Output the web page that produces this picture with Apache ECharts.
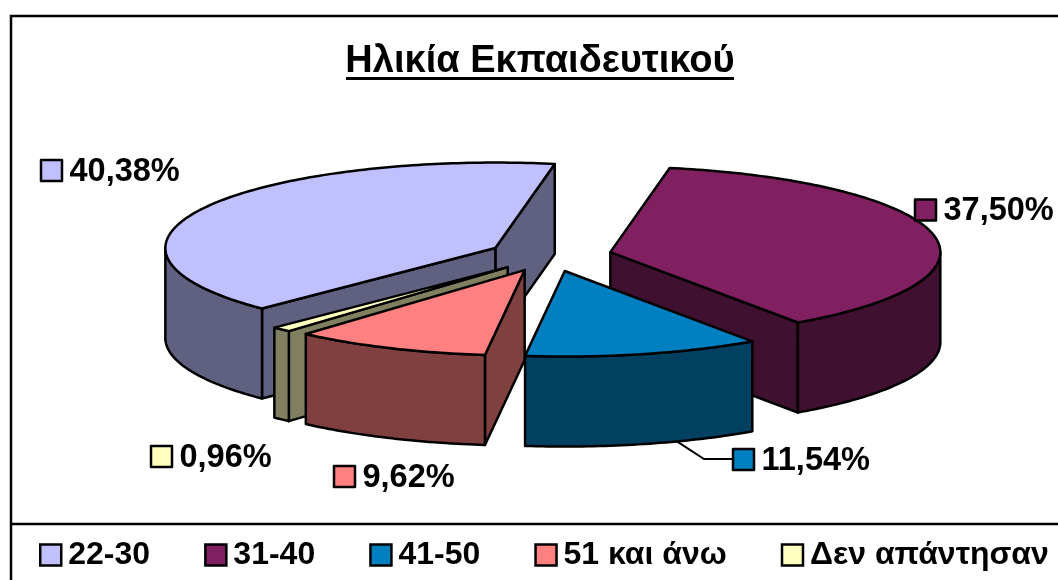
<!DOCTYPE html>
<html>
<head>
<meta charset="utf-8">
<style>
  html, body { margin: 0; padding: 0; background: #fff; }
  #chart { width: 1058px; height: 580px; }
</style>
<script src="https://cdn.jsdelivr.net/npm/echarts@6/dist/echarts.min.js"></script>
</head>
<body>
<div id="chart"></div>
<script>
var titleText = "Ηλικία Εκπαιδευτικού";
var categories = ["22-30", "31-40", "41-50", "51 και άνω", "Δεν απάντησαν"];
var values = [40.38, 37.5, 11.54, 9.62, 0.96];
var topColors = ["#C0C0FF", "#802060", "#0080C0", "#FF8080", "#FFFFC0"];
var wallColors = ["#606080", "#401030", "#004060", "#804040", "#808060"];
// back to front, the small wedges sit in front of the two big ones
var drawOrder = [0, 1, 4, 3, 2];
// left/top of the little key next to each data label
var labelBoxes = [[41, 160], [915, 199.5], [733, 449], [334, 466], [151, 446]];

var FONT = '"Liberation Sans", Arial, sans-serif';
var pie = { cx: 550, cy: 255.5, rx: 330, ry: 85.5, depth: 90, explode: 0.187, start: 225 };

var total = values.reduce(function (a, b) { return a + b; }, 0);
var slices = [];
var cursor = pie.start;
values.forEach(function (v) {
  // excel goes clockwise so the angle falls
  var sweep = (v / total) * 360;
  slices.push({ hi: cursor, lo: cursor - sweep, mid: cursor - sweep / 2 });
  cursor -= sweep;
});

function rad(d) { return (d * Math.PI) / 180; }

function apexOf(s) {
  return [
    pie.cx + Math.cos(rad(s.mid)) * pie.rx * pie.explode,
    pie.cy - Math.sin(rad(s.mid)) * pie.ry * pie.explode
  ];
}

function onRim(apex, deg, down) {
  return [
    apex[0] + Math.cos(rad(deg)) * pie.rx,
    apex[1] - Math.sin(rad(deg)) * pie.ry + (down ? pie.depth : 0)
  ];
}

function arc(apex, from, to, down) {
  var pts = [];
  var n = Math.max(2, Math.ceil(Math.abs(to - from)));
  for (var i = 0; i <= n; i++) {
    pts.push(onRim(apex, from + ((to - from) * i) / n, down));
  }
  return pts;
}

function lineStyle(fill) {
  return { fill: fill, stroke: "#000", lineWidth: 2.5, lineJoin: "round" };
}

function face(points, fill) {
  return { type: "polygon", shape: { points: points }, style: lineStyle(fill) };
}

function cutFace(apex, deg, fill) {
  var p = onRim(apex, deg, false);
  return face(
    [apex, p, [p[0], p[1] + pie.depth], [apex[0], apex[1] + pie.depth]],
    fill
  );
}

function sliceShapes(idx) {
  var s = slices[idx];
  var apex = apexOf(s);
  var kids = [];
  // cut faces only when they turn toward the viewer
  if (Math.cos(rad(s.lo)) > 0) kids.push(cutFace(apex, s.lo, wallColors[idx]));
  if (Math.cos(rad(s.hi)) < 0) kids.push(cutFace(apex, s.hi, wallColors[idx]));
  // outer wall, front half of the rim
  [[-180, 0], [180, 360]].forEach(function (range) {
    var from = Math.max(s.lo, range[0]);
    var to = Math.min(s.hi, range[1]);
    if (to > from) {
      var up = arc(apex, from, to, false);
      var low = arc(apex, from, to, true).reverse();
      kids.push(face(up.concat(low), wallColors[idx]));
    }
  });
  kids.push(face([apex].concat(arc(apex, s.lo, s.hi, false)), topColors[idx]));
  return kids;
}

function labelShapes(idx, value) {
  var box = labelBoxes[idx];
  var kids = [];
  if (idx === 2) {
    // leader of the 41-50 label
    var s = slices[idx];
    var from = onRim(apexOf(s), s.mid + 6, true);
    kids.push({
      type: "polyline",
      shape: { points: [from, [704, box[1] + 10], [box[0], box[1] + 10]] },
      style: { fill: "none", stroke: "#000", lineWidth: 2 }
    });
  }
  kids.push({
    type: "rect",
    shape: { x: box[0], y: box[1], width: 21, height: 21 },
    style: lineStyle(topColors[idx])
  });
  kids.push({
    type: "text",
    style: {
      x: box[0] + 28.5,
      y: box[1] + 12,
      text: value.toFixed(2).replace(".", ",") + "%",
      font: "bold 32.5px " + FONT,
      fill: "#000",
      verticalAlign: "middle"
    }
  });
  return kids;
}

var series = categories.map(function (name, i) {
  return {
    name: name,
    type: "custom",
    coordinateSystem: "none",
    silent: true,
    z: 2 + drawOrder.indexOf(i),
    itemStyle: { color: topColors[i] },
    data: [[values[i]]],
    renderItem: function (params, api) {
      return {
        type: "group",
        children: sliceShapes(i).concat(labelShapes(i, api.value(0)))
      };
    }
  };
});

var myChart = echarts.init(document.getElementById("chart"));
myChart.setOption({
  animation: false,
  backgroundColor: "#fff",
  title: {
    text: titleText,
    left: 535,
    top: 38,
    textAlign: "center",
    textStyle: { fontFamily: FONT, fontWeight: "bold", fontSize: 38, color: "#000" }
  },
  legend: {
    data: categories,
    left: 39,
    top: 539,
    padding: 0,
    icon: "rect",
    itemWidth: 21,
    itemHeight: 21,
    itemGap: 54,
    selectedMode: false,
    itemStyle: { borderColor: "#000", borderWidth: 2.5 },
    textStyle: { fontFamily: FONT, fontWeight: "bold", fontSize: 32, color: "#000", padding: [0, 0, 0, 2] }
  },
  graphic: [
    // chart frame runs off the right and bottom of the picture
    {
      type: "polyline",
      shape: { points: [[11, 580], [11, 16], [1058, 16]] },
      style: { fill: "none", stroke: "#000", lineWidth: 2.5 }
    },
    {
      type: "line",
      shape: { x1: 11, y1: 524, x2: 1058, y2: 524 },
      style: { stroke: "#000", lineWidth: 2.5 }
    },
    // title underline
    {
      type: "rect",
      shape: { x: 346, y: 77, width: 388, height: 3 },
      style: { fill: "#000" }
    }
  ],
  series: series
});
window.onresize = function () {
  myChart.resize();
};
</script>
</body>
</html>
